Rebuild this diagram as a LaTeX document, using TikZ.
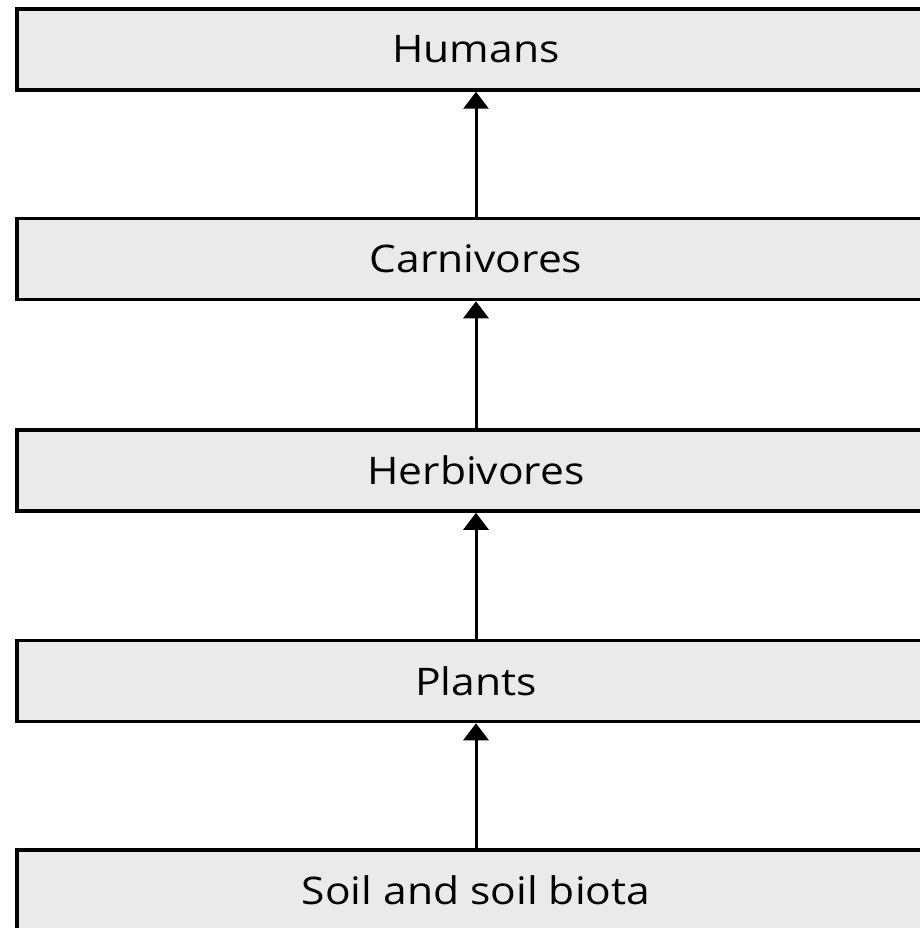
\documentclass[tikz,border=0pt]{standalone}
\usepackage{fontspec}
\usepackage{tikz}
\usetikzlibrary{arrows.meta}
\newfontfamily\boxfont[FakeStretch=1.12]{Open Sans}
\definecolor{boxgray}{RGB}{233,234,233}

\begin{document}
\begin{tikzpicture}[x=1pt,y=-1pt,
            level/.style={draw,line width=3.5pt,fill=boxgray,minimum width=918pt,minimum height=81pt,inner sep=0pt,font=\boxfont\fontsize{38}{44}\selectfont},
            up/.style={line width=3pt,-{Triangle[length=17pt,width=25pt]}}]
            \useasboundingbox (0,0) rectangle (919,928);
            \node[level] (humans) at (476,49.5) {Humans};
            \node[level] (carni) at (476,259) {Carnivores};
            \node[level] (herbi) at (476,470.5) {Herbivores};
            \node[level] (plants) at (476,681) {Plants};
            \node[level] (soil) at (476,890.5) {Soil and soil biota};
            \draw[up] (soil.north) -- (plants.south);
            \draw[up] (plants.north) -- (herbi.south);
            \draw[up] (herbi.north) -- (carni.south);
            \draw[up] (carni.north) -- (humans.south);
        \end{tikzpicture}
\end{document}
